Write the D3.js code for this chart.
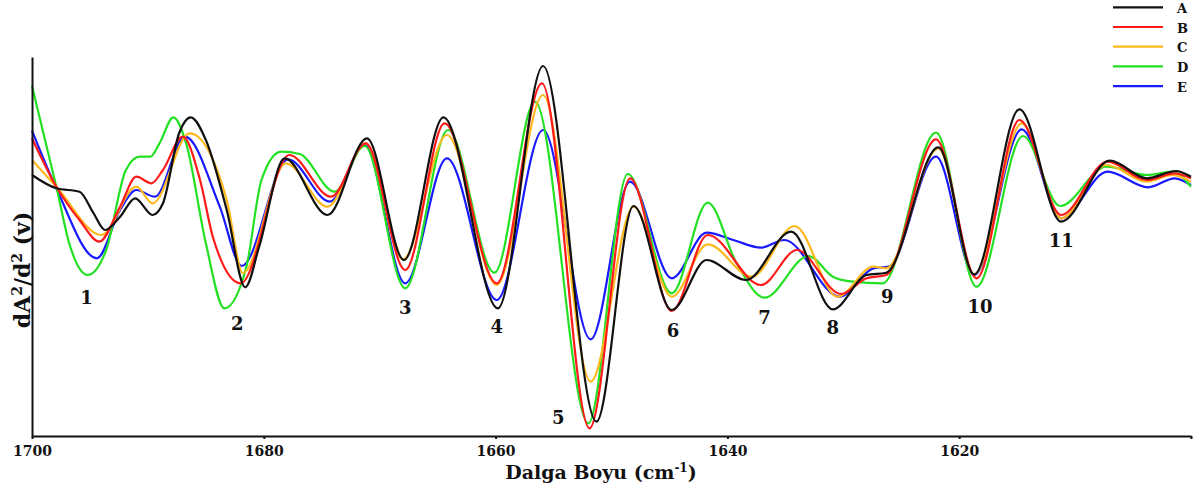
<!doctype html>
<html>
<head>
<meta charset="utf-8">
<script src="https://d3js.org/d3.v7.min.js"></script>
<style>
  body { margin: 0; background: #fff; }
  svg text { font-family: "DejaVu Serif", "Liberation Serif", serif; font-weight: bold; fill: #111; }
  .curve { fill: none; stroke-width: 2.2px; stroke-linejoin: round; }
  .axis path, .axis line { stroke: #111; stroke-width: 2px; }
</style>
</head>
<body>
<svg id="chart" width="1199" height="492"></svg>
<script>
// wavenumber (cm-1), second derivative (arbitrary units)
var seriesA = [[1700,261],[1697.9,247.7],[1695.9,244.3],[1694.7,223],[1693.7,206],[1692.4,219.3],[1691.1,237.7],
  [1689.6,221],[1688.7,232.7],[1687.3,303],[1686.3,318.7],[1685.0,296],[1683.2,226],[1681.6,148.7],[1680.4,189.3],
  [1678.2,277.7],[1674.5,221],[1671.1,297.7],[1667.9,176],[1664.5,318.7],[1659.8,127.7],[1655.9,370],[1651.3,14.3],
  [1648.1,230],[1644.8,126],[1641.8,176],[1638.4,156],[1634.5,204.3],[1630.9,126.7],[1628.0,161],[1626.3,163.3],
  [1621.8,288.7],[1618.7,161.7],[1614.8,326.7],[1611.2,214.3],[1607.0,275.3],[1603.8,257.7],[1601.3,265],[1600,259.3]];
var seriesB = [[1700,297.7],[1697.9,249.3],[1695.9,216],[1694.2,194.3],[1692.4,229.3],[1691.0,259.3],[1689.7,252.7],
  [1688.7,266],[1687.0,299.3],[1685.5,256],[1684.4,199.3],[1682.0,152.7],[1677.8,281],[1674.2,239.3],[1671.2,292.7],
  [1667.8,166],[1664.4,312.7],[1659.9,152.7],[1656.0,352.7],[1651.9,7.7],[1648.4,257.7],[1644.8,125],[1641.7,201],
  [1637.1,151],[1634.0,186],[1630.2,142],[1628.0,157.7],[1626.3,161],[1622.0,296.7],[1618.5,157.7],[1614.8,316],
  [1611.2,221],[1607.2,274.3],[1603.8,256],[1601.4,262.7],[1600,257.7]];
var seriesC = [[1700,276],[1697.9,249.3],[1694.0,201],[1691.0,249.3],[1689.6,232.7],[1686.4,302.7],[1683.2,236],
  [1681.8,163],[1678.1,272.7],[1674.5,229.3],[1671.2,292.7],[1668.0,176.7],[1664.2,301],[1659.9,151],[1655.9,341],
  [1651.8,54.3],[1648.1,229.3],[1644.8,139.3],[1641.7,191.7],[1637.9,159.3],[1634.2,210],[1630.5,139.3],[1627.4,169.3],
  [1626.3,167.7],[1621.8,287.7],[1618.7,161.7],[1614.6,312.7],[1611.2,217.7],[1607.3,271],[1603.8,254.3],[1601.6,261],[1600,254.3]];
var seriesD = [[1700,350],[1697.9,249.3],[1696.7,189.3],[1695.2,161],[1693.6,186],[1691.9,266],[1690.7,279.3],
  [1689.8,279.3],[1689.0,292.7],[1687.8,318.7],[1686.7,292.7],[1685.0,192.7],[1683.4,127.7],[1681.5,169.3],[1680.2,256],
  [1678.5,284.3],[1676.9,282],[1673.9,244.3],[1671.3,290],[1667.8,147.7],[1664.1,306],[1660.1,163.3],[1656.6,334.3],
  [1652.0,12.7],[1648.6,262],[1644.8,142.7],[1641.7,233.3],[1639.2,172.7],[1636.8,138.3],[1633.0,180],[1630.9,159.3],
  [1629.2,154.3],[1626.6,152.7],[1622.0,303.3],[1618.5,149.3],[1614.5,300],[1611.3,230],[1607.3,269.3],[1603.8,261],
  [1601.6,264.3],[1600,249.3]];
var seriesE = [[1700,305.3],[1697.9,247.7],[1694.4,177.7],[1692.4,226],[1691.0,246],[1689.4,239.3],[1686.8,299.3],
  [1683.8,229.3],[1681.9,170],[1677.9,276.7],[1674.3,234.3],[1671.3,291],[1667.8,152.7],[1664.2,277.7],[1659.9,136],
  [1655.9,306],[1651.8,96.7],[1648.4,254.3],[1644.8,157.7],[1641.8,203.3],[1639.5,196],[1637.1,188.3],[1635.1,196],
  [1630.3,139.3],[1627.4,167.7],[1626.1,169.3],[1622.0,279.3],[1618.7,161],[1614.6,306.7],[1611.2,217.7],[1607.2,264.3],
  [1603.7,248.7],[1601.4,257.7],[1600,251]];

var seriesNames = ["A", "B", "C", "D", "E"];
var seriesColors = ["#111111", "#ff1a1a", "#ffb81c", "#22e022", "#1a1aff"];
var tickValues = [1700, 1680, 1660, 1640, 1620, 1600];
var tickLabels = ["1700", "1680", "1660", "1640", "1620", ""];
var peakNames = ["1","2","3","4","5","6","7","8","9","10","11"];
var peakWave = [1695.3, 1682.3, 1667.8, 1659.9, 1654.6, 1644.7, 1636.8, 1630.9, 1626.2, 1618.2, 1611.2];
var peakValue = [138, 112, 128, 109.3, 18.7, 105.5, 118, 108, 139.3, 129, 195];

var svg = d3.select("#chart");

var x = d3.scaleLinear().domain([1700, 1600]).range([32, 1191]);
var y = d3.scaleLinear().domain([0, 379]).range([436, 57]);

var line = d3.line()
  .x(function(d) { return x(d[0]); })
  .y(function(d) { return y(d[1]); })
  .curve(d3.curveMonotoneX);

var allSeries = [seriesA, seriesB, seriesC, seriesD, seriesE];
var drawOrder = [4, 3, 2, 1, 0];

svg.append("g")
  .selectAll("path")
  .data(drawOrder)
  .enter()
  .append("path")
  .attr("class", "curve")
  .attr("stroke", function(i) { return seriesColors[i]; })
  .attr("d", function(i) { return line(allSeries[i]); });

// axes
var xAxis = svg.append("g")
  .attr("class", "axis")
  .attr("transform", "translate(0,436)")
  .call(d3.axisBottom(x).tickValues(tickValues).tickSize(3).tickSizeOuter(0)
    .tickFormat(function(d, i) { return tickLabels[i]; }));
xAxis.selectAll("text")
  .attr("font-family", null)
  .attr("font-size", null)
  .style("font-size", "14px")
  .attr("y", 20)
  .attr("dy", 0);

svg.append("g")
  .attr("class", "axis")
  .attr("transform", "translate(32,0)")
  .call(d3.axisLeft(y).tickValues([]).tickSizeOuter(0));

// axis titles
var xt = svg.append("text")
  .attr("x", 601).attr("y", 479)
  .attr("text-anchor", "middle")
  .style("font-size", "19px");
xt.append("tspan").text("Dalga Boyu (cm");
xt.append("tspan").attr("baseline-shift", "super").style("font-size", "12px").text("-1");
xt.append("tspan").text(")");

var yt = svg.append("text")
  .attr("transform", "translate(30,270) rotate(-90)")
  .attr("text-anchor", "middle")
  .style("font-size", "22px");
yt.append("tspan").text("dA");
yt.append("tspan").attr("baseline-shift", "super").style("font-size", "14px").text("2");
yt.append("tspan").text("/d");
yt.append("tspan").attr("baseline-shift", "super").style("font-size", "14px").text("2");
yt.append("tspan").text(" (v)");

// peak numbers
svg.append("g")
  .selectAll("text")
  .data(peakNames)
  .enter()
  .append("text")
  .attr("x", function(d, i) { return x(peakWave[i]); })
  .attr("y", function(d, i) { return y(peakValue[i]); })
  .attr("dy", "0.36em")
  .attr("text-anchor", "middle")
  .style("font-size", "18px")
  .text(function(d) { return d; });

// legend
var legend = svg.append("g")
  .selectAll("g")
  .data(seriesNames)
  .enter()
  .append("g")
  .attr("transform", function(d, i) { return "translate(1113," + (7.3 + i * 19.7) + ")"; });
legend.append("line")
  .attr("x1", 0).attr("x2", 50)
  .attr("stroke", function(d, i) { return seriesColors[i]; })
  .attr("stroke-width", 2.2);
legend.append("text")
  .attr("x", 64).attr("y", 5.5)
  .style("font-size", "13px")
  .text(function(d) { return d; });
</script>
</body>
</html>
